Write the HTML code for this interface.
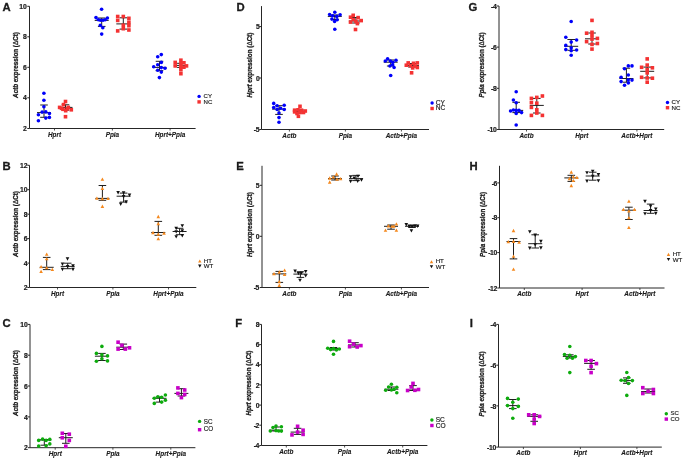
<!DOCTYPE html>
<html><head><meta charset="utf-8"><style>
html,body{margin:0;padding:0;background:#fff;}
body{width:685px;height:460px;overflow:hidden;}
svg{display:block;will-change:transform;}
text{font-family:"Liberation Sans",sans-serif;fill:#1a1a1a;}
.tk{font-size:6.8px;font-weight:bold;text-anchor:end;stroke:#1a1a1a;stroke-width:0.2px;}
.cat{font-size:6.4px;font-weight:bold;font-style:italic;text-anchor:middle;stroke:#1a1a1a;stroke-width:0.12px;}
.ttl{font-size:6.3px;font-weight:bold;text-anchor:middle;stroke:#1a1a1a;stroke-width:0.28px;}
.let{font-size:11.3px;font-weight:bold;stroke:#1a1a1a;stroke-width:0.3px;}
.leg{stroke:#1a1a1a;stroke-width:0.15px;}
</style></head><body>
<svg width="685" height="460" viewBox="0 0 685 460">
<rect width="685" height="460" fill="#fff"/>
<path d="M29.50 6.30V128.50H195.60" fill="none" stroke="#262626" stroke-width="1"/>
<path d="M27.30 6.30H29.50" stroke="#262626" stroke-width="1"/>
<text x="26.90" y="8.95" class="tk">10</text>
<path d="M27.30 36.80H29.50" stroke="#262626" stroke-width="1"/>
<text x="26.90" y="39.45" class="tk">8</text>
<path d="M27.30 67.30H29.50" stroke="#262626" stroke-width="1"/>
<text x="26.90" y="69.95" class="tk">6</text>
<path d="M27.30 97.80H29.50" stroke="#262626" stroke-width="1"/>
<text x="26.90" y="100.45" class="tk">4</text>
<path d="M27.30 128.50H29.50" stroke="#262626" stroke-width="1"/>
<text x="26.90" y="131.15" class="tk">2</text>
<path d="M54.50 128.50V130.50" stroke="#262626" stroke-width="0.8"/>
<text x="54.50" y="136.70" class="cat">Hprt</text>
<path d="M112.40 128.50V130.50" stroke="#262626" stroke-width="0.8"/>
<text x="112.40" y="136.70" class="cat">Ppia</text>
<path d="M170.10 128.50V130.50" stroke="#262626" stroke-width="0.8"/>
<text x="170.10" y="136.70" class="cat">Hprt+Ppia</text>
<text transform="translate(18.40 65.00) rotate(-90)" class="ttl"><tspan font-style="italic">Actb</tspan> expression (<tspan font-weight="normal">&#916;</tspan>Ct)</text>
<text x="2.60" y="10.70" class="let">A</text>
<path d="M44.00 105.00V117.30M40.20 105.00H47.80M40.20 117.30H47.80M37.00 112.60H51.00" stroke="#1e1e1e" stroke-width="1" fill="none"/>
<circle cx="43.90" cy="93.30" r="1.80" fill="#0000fa"/>
<circle cx="43.90" cy="100.20" r="1.80" fill="#0000fa"/>
<circle cx="43.90" cy="106.70" r="1.80" fill="#0000fa"/>
<circle cx="42.10" cy="112.10" r="1.80" fill="#0000fa"/>
<circle cx="45.80" cy="111.90" r="1.80" fill="#0000fa"/>
<circle cx="38.40" cy="114.80" r="1.80" fill="#0000fa"/>
<circle cx="49.40" cy="113.50" r="1.80" fill="#0000fa"/>
<circle cx="45.80" cy="118.10" r="1.80" fill="#0000fa"/>
<circle cx="49.40" cy="117.40" r="1.80" fill="#0000fa"/>
<circle cx="38.40" cy="120.70" r="1.80" fill="#0000fa"/>
<path d="M65.50 104.80V110.20M61.70 104.80H69.30M61.70 110.20H69.30M58.50 107.40H72.50" stroke="#1e1e1e" stroke-width="1" fill="none"/>
<rect x="63.70" y="99.70" width="3.60" height="3.60" fill="#f43232"/>
<rect x="61.70" y="102.80" width="3.60" height="3.60" fill="#f43232"/>
<rect x="57.80" y="105.60" width="3.60" height="3.60" fill="#f43232"/>
<rect x="61.20" y="107.50" width="3.60" height="3.60" fill="#f43232"/>
<rect x="66.50" y="105.60" width="3.60" height="3.60" fill="#f43232"/>
<rect x="69.50" y="108.00" width="3.60" height="3.60" fill="#f43232"/>
<rect x="63.90" y="108.90" width="3.60" height="3.60" fill="#f43232"/>
<rect x="63.70" y="114.90" width="3.60" height="3.60" fill="#f43232"/>
<rect x="59.70" y="106.50" width="3.60" height="3.60" fill="#f43232"/>
<rect x="65.40" y="107.00" width="3.60" height="3.60" fill="#f43232"/>
<path d="M101.70 18.00V26.40M97.90 18.00H105.50M97.90 26.40H105.50M94.70 20.40H108.70" stroke="#1e1e1e" stroke-width="1" fill="none"/>
<circle cx="101.60" cy="9.30" r="1.80" fill="#0000fa"/>
<circle cx="96.00" cy="17.60" r="1.80" fill="#0000fa"/>
<circle cx="107.40" cy="18.00" r="1.80" fill="#0000fa"/>
<circle cx="98.30" cy="19.80" r="1.80" fill="#0000fa"/>
<circle cx="100.40" cy="20.20" r="1.80" fill="#0000fa"/>
<circle cx="103.00" cy="20.20" r="1.80" fill="#0000fa"/>
<circle cx="105.20" cy="19.80" r="1.80" fill="#0000fa"/>
<circle cx="100.30" cy="25.40" r="1.80" fill="#0000fa"/>
<circle cx="102.80" cy="27.80" r="1.80" fill="#0000fa"/>
<circle cx="101.70" cy="34.10" r="1.80" fill="#0000fa"/>
<path d="M123.30 17.80V29.10M119.50 17.80H127.10M119.50 29.10H127.10M116.30 23.90H130.30" stroke="#1e1e1e" stroke-width="1" fill="none"/>
<rect x="115.90" y="14.70" width="3.60" height="3.60" fill="#f43232"/>
<rect x="121.50" y="14.70" width="3.60" height="3.60" fill="#f43232"/>
<rect x="127.10" y="16.50" width="3.60" height="3.60" fill="#f43232"/>
<rect x="115.90" y="18.60" width="3.60" height="3.60" fill="#f43232"/>
<rect x="127.10" y="20.40" width="3.60" height="3.60" fill="#f43232"/>
<rect x="121.50" y="23.40" width="3.60" height="3.60" fill="#f43232"/>
<rect x="127.10" y="23.90" width="3.60" height="3.60" fill="#f43232"/>
<rect x="121.50" y="26.90" width="3.60" height="3.60" fill="#f43232"/>
<rect x="127.10" y="28.20" width="3.60" height="3.60" fill="#f43232"/>
<rect x="115.90" y="29.10" width="3.60" height="3.60" fill="#f43232"/>
<path d="M159.50 61.30V70.70M155.70 61.30H163.30M155.70 70.70H163.30M152.50 67.40H166.50" stroke="#1e1e1e" stroke-width="1" fill="none"/>
<circle cx="161.30" cy="54.60" r="1.80" fill="#0000fa"/>
<circle cx="157.70" cy="56.70" r="1.80" fill="#0000fa"/>
<circle cx="161.30" cy="62.40" r="1.80" fill="#0000fa"/>
<circle cx="157.70" cy="64.80" r="1.80" fill="#0000fa"/>
<circle cx="153.70" cy="66.70" r="1.80" fill="#0000fa"/>
<circle cx="161.30" cy="67.60" r="1.80" fill="#0000fa"/>
<circle cx="165.00" cy="68.30" r="1.80" fill="#0000fa"/>
<circle cx="157.70" cy="70.20" r="1.80" fill="#0000fa"/>
<circle cx="161.30" cy="72.10" r="1.80" fill="#0000fa"/>
<circle cx="159.40" cy="77.60" r="1.80" fill="#0000fa"/>
<path d="M180.90 63.30V67.40M177.10 63.30H184.70M177.10 67.40H184.70M173.90 65.40H187.90" stroke="#1e1e1e" stroke-width="1" fill="none"/>
<rect x="179.10" y="58.40" width="3.60" height="3.60" fill="#f43232"/>
<rect x="173.40" y="60.60" width="3.60" height="3.60" fill="#f43232"/>
<rect x="182.10" y="61.00" width="3.60" height="3.60" fill="#f43232"/>
<rect x="179.10" y="61.90" width="3.60" height="3.60" fill="#f43232"/>
<rect x="184.70" y="64.10" width="3.60" height="3.60" fill="#f43232"/>
<rect x="173.40" y="64.10" width="3.60" height="3.60" fill="#f43232"/>
<rect x="179.10" y="64.90" width="3.60" height="3.60" fill="#f43232"/>
<rect x="182.10" y="65.40" width="3.60" height="3.60" fill="#f43232"/>
<rect x="179.10" y="68.00" width="3.60" height="3.60" fill="#f43232"/>
<rect x="179.10" y="71.90" width="3.60" height="3.60" fill="#f43232"/>
<circle cx="199.10" cy="96.40" r="1.71" fill="#0000fa"/>
<text x="203.50" y="98.30" class="leg" font-size="6.1">CY</text>
<rect x="197.39" y="100.19" width="3.42" height="3.42" fill="#f43232"/>
<text x="203.50" y="103.60" class="leg" font-size="6.1">NC</text>
<path d="M29.50 165.30V287.50H196.30" fill="none" stroke="#262626" stroke-width="1"/>
<path d="M27.30 165.30H29.50" stroke="#262626" stroke-width="1"/>
<text x="27.50" y="167.95" class="tk">12</text>
<path d="M27.30 189.70H29.50" stroke="#262626" stroke-width="1"/>
<text x="27.50" y="192.35" class="tk">10</text>
<path d="M27.30 214.20H29.50" stroke="#262626" stroke-width="1"/>
<text x="27.50" y="216.85" class="tk">8</text>
<path d="M27.30 238.60H29.50" stroke="#262626" stroke-width="1"/>
<text x="27.50" y="241.25" class="tk">6</text>
<path d="M27.30 263.10H29.50" stroke="#262626" stroke-width="1"/>
<text x="27.50" y="265.75" class="tk">4</text>
<path d="M27.30 287.50H29.50" stroke="#262626" stroke-width="1"/>
<text x="27.50" y="290.15" class="tk">2</text>
<path d="M57.50 287.50V289.50" stroke="#262626" stroke-width="0.8"/>
<text x="57.50" y="295.70" class="cat">Hprt</text>
<path d="M112.90 287.50V289.50" stroke="#262626" stroke-width="0.8"/>
<text x="112.90" y="295.70" class="cat">Ppia</text>
<path d="M168.50 287.50V289.50" stroke="#262626" stroke-width="0.8"/>
<text x="168.50" y="295.70" class="cat">Hprt+Ppia</text>
<text transform="translate(18.40 224.00) rotate(-90)" class="ttl"><tspan font-style="italic">Actb</tspan> expression (<tspan font-weight="normal">&#916;</tspan>Ct)</text>
<text x="2.40" y="170.10" class="let">B</text>
<path d="M46.70 257.40V269.60M42.90 257.40H50.50M42.90 269.60H50.50M39.70 267.30H53.70" stroke="#1e1e1e" stroke-width="1" fill="none"/>
<path d="M46.70 252.51L48.50 255.84L44.90 255.84Z" fill="#f5891e"/>
<path d="M46.70 256.91L48.50 260.24L44.90 260.24Z" fill="#f5891e"/>
<path d="M41.10 265.01L42.90 268.34L39.30 268.34Z" fill="#f5891e"/>
<path d="M46.70 265.91L48.50 269.24L44.90 269.24Z" fill="#f5891e"/>
<path d="M52.30 267.71L54.10 271.04L50.50 271.04Z" fill="#f5891e"/>
<path d="M41.10 269.71L42.90 273.04L39.30 273.04Z" fill="#f5891e"/>
<path d="M67.70 263.20V268.70M63.90 263.20H71.50M63.90 268.70H71.50M60.70 266.40H74.70" stroke="#1e1e1e" stroke-width="1" fill="none"/>
<path d="M67.50 260.69L69.30 257.36L65.70 257.36Z" fill="#111111"/>
<path d="M62.50 265.89L64.30 262.56L60.70 262.56Z" fill="#111111"/>
<path d="M73.00 267.69L74.80 264.36L71.20 264.36Z" fill="#111111"/>
<path d="M62.50 271.19L64.30 267.86L60.70 267.86Z" fill="#111111"/>
<path d="M73.00 271.19L74.80 267.86L71.20 267.86Z" fill="#111111"/>
<path d="M67.60 268.29L69.40 264.96L65.80 264.96Z" fill="#111111"/>
<path d="M102.40 185.50V200.30M98.60 185.50H106.20M98.60 200.30H106.20M95.40 198.40H109.40" stroke="#1e1e1e" stroke-width="1" fill="none"/>
<path d="M102.40 177.41L104.20 180.74L100.60 180.74Z" fill="#f5891e"/>
<path d="M102.40 186.71L104.20 190.04L100.60 190.04Z" fill="#f5891e"/>
<path d="M96.90 196.51L98.70 199.84L95.10 199.84Z" fill="#f5891e"/>
<path d="M102.40 196.81L104.20 200.14L100.60 200.14Z" fill="#f5891e"/>
<path d="M108.00 196.71L109.80 200.04L106.20 200.04Z" fill="#f5891e"/>
<path d="M102.40 204.61L104.20 207.94L100.60 207.94Z" fill="#f5891e"/>
<path d="M123.60 193.10V202.10M119.80 193.10H127.40M119.80 202.10H127.40M116.60 196.20H130.60" stroke="#1e1e1e" stroke-width="1" fill="none"/>
<path d="M118.10 194.39L119.90 191.06L116.30 191.06Z" fill="#111111"/>
<path d="M123.60 194.59L125.40 191.26L121.80 191.26Z" fill="#111111"/>
<path d="M129.50 196.89L131.30 193.56L127.70 193.56Z" fill="#111111"/>
<path d="M126.10 203.69L127.90 200.36L124.30 200.36Z" fill="#111111"/>
<path d="M120.70 205.89L122.50 202.56L118.90 202.56Z" fill="#111111"/>
<path d="M123.60 198.39L125.40 195.06L121.80 195.06Z" fill="#111111"/>
<path d="M158.30 221.40V235.30M154.50 221.40H162.10M154.50 235.30H162.10M151.30 232.50H165.30" stroke="#1e1e1e" stroke-width="1" fill="none"/>
<path d="M158.30 214.81L160.10 218.14L156.50 218.14Z" fill="#f5891e"/>
<path d="M158.30 221.81L160.10 225.14L156.50 225.14Z" fill="#f5891e"/>
<path d="M153.00 230.81L154.80 234.14L151.20 234.14Z" fill="#f5891e"/>
<path d="M158.30 232.31L160.10 235.64L156.50 235.64Z" fill="#f5891e"/>
<path d="M164.00 231.31L165.80 234.64L162.20 234.64Z" fill="#f5891e"/>
<path d="M158.30 236.91L160.10 240.24L156.50 240.24Z" fill="#f5891e"/>
<path d="M179.60 228.30V234.70M175.80 228.30H183.40M175.80 234.70H183.40M172.60 231.50H186.60" stroke="#1e1e1e" stroke-width="1" fill="none"/>
<path d="M182.30 227.49L184.10 224.16L180.50 224.16Z" fill="#111111"/>
<path d="M176.20 230.19L178.00 226.86L174.40 226.86Z" fill="#111111"/>
<path d="M176.20 233.59L178.00 230.26L174.40 230.26Z" fill="#111111"/>
<path d="M182.30 232.59L184.10 229.26L180.50 229.26Z" fill="#111111"/>
<path d="M182.30 237.39L184.10 234.06L180.50 234.06Z" fill="#111111"/>
<path d="M176.20 238.49L178.00 235.16L174.40 235.16Z" fill="#111111"/>
<path d="M199.80 259.45L201.51 262.62L198.09 262.62Z" fill="#f5891e"/>
<text x="203.85" y="262.50" class="leg" font-size="6.1">HT</text>
<path d="M199.80 267.70L201.51 264.53L198.09 264.53Z" fill="#111111"/>
<text x="203.85" y="267.70" class="leg" font-size="6.1">WT</text>
<path d="M30.00 324.40V447.70H195.40" fill="none" stroke="#262626" stroke-width="1"/>
<path d="M27.80 324.40H30.00" stroke="#262626" stroke-width="1"/>
<text x="27.70" y="327.05" class="tk">10</text>
<path d="M27.80 355.20H30.00" stroke="#262626" stroke-width="1"/>
<text x="27.70" y="357.85" class="tk">8</text>
<path d="M27.80 386.00H30.00" stroke="#262626" stroke-width="1"/>
<text x="27.70" y="388.65" class="tk">6</text>
<path d="M27.80 416.90H30.00" stroke="#262626" stroke-width="1"/>
<text x="27.70" y="419.55" class="tk">4</text>
<path d="M27.80 447.70H30.00" stroke="#262626" stroke-width="1"/>
<text x="27.70" y="450.35" class="tk">2</text>
<path d="M55.20 447.70V449.70" stroke="#262626" stroke-width="0.8"/>
<text x="55.20" y="455.90" class="cat">Hprt</text>
<path d="M112.90 447.70V449.70" stroke="#262626" stroke-width="0.8"/>
<text x="112.90" y="455.90" class="cat">Ppia</text>
<path d="M170.80 447.70V449.70" stroke="#262626" stroke-width="0.8"/>
<text x="170.80" y="455.90" class="cat">Hprt+Ppia</text>
<text transform="translate(18.40 383.00) rotate(-90)" class="ttl"><tspan font-style="italic">Actb</tspan> expression (<tspan font-weight="normal">&#916;</tspan>Ct)</text>
<text x="2.40" y="327.00" class="let">C</text>
<path d="M44.30 439.50V445.20M40.50 439.50H48.10M40.50 445.20H48.10M37.30 440.00H51.30" stroke="#1e1e1e" stroke-width="1" fill="none"/>
<circle cx="38.70" cy="440.40" r="1.80" fill="#0dab0d"/>
<circle cx="42.60" cy="439.10" r="1.80" fill="#0dab0d"/>
<circle cx="46.10" cy="440.40" r="1.80" fill="#0dab0d"/>
<circle cx="49.80" cy="439.40" r="1.80" fill="#0dab0d"/>
<circle cx="49.80" cy="443.90" r="1.80" fill="#0dab0d"/>
<circle cx="46.10" cy="445.70" r="1.80" fill="#0dab0d"/>
<circle cx="38.70" cy="446.10" r="1.80" fill="#0dab0d"/>
<path d="M65.80 433.50V443.30M62.00 433.50H69.60M62.00 443.30H69.60M58.80 437.70H72.80" stroke="#1e1e1e" stroke-width="1" fill="none"/>
<rect x="60.50" y="431.50" width="3.60" height="3.60" fill="#c800c8"/>
<rect x="67.50" y="432.40" width="3.60" height="3.60" fill="#c800c8"/>
<rect x="60.50" y="436.00" width="3.60" height="3.60" fill="#c800c8"/>
<rect x="67.50" y="438.60" width="3.60" height="3.60" fill="#c800c8"/>
<rect x="64.00" y="444.50" width="3.60" height="3.60" fill="#c800c8"/>
<path d="M101.90 353.40V360.50M98.10 353.40H105.70M98.10 360.50H105.70M94.90 356.20H108.90" stroke="#1e1e1e" stroke-width="1" fill="none"/>
<circle cx="101.90" cy="346.40" r="1.80" fill="#0dab0d"/>
<circle cx="96.40" cy="353.40" r="1.80" fill="#0dab0d"/>
<circle cx="101.90" cy="354.90" r="1.80" fill="#0dab0d"/>
<circle cx="107.50" cy="355.90" r="1.80" fill="#0dab0d"/>
<circle cx="101.90" cy="358.70" r="1.80" fill="#0dab0d"/>
<circle cx="96.40" cy="361.30" r="1.80" fill="#0dab0d"/>
<circle cx="107.50" cy="360.90" r="1.80" fill="#0dab0d"/>
<path d="M123.30 344.10V349.50M119.50 344.10H127.10M119.50 349.50H127.10M116.30 347.20H130.30" stroke="#1e1e1e" stroke-width="1" fill="none"/>
<rect x="116.30" y="340.40" width="3.60" height="3.60" fill="#c800c8"/>
<rect x="120.10" y="343.50" width="3.60" height="3.60" fill="#c800c8"/>
<rect x="116.30" y="347.30" width="3.60" height="3.60" fill="#c800c8"/>
<rect x="123.50" y="347.30" width="3.60" height="3.60" fill="#c800c8"/>
<rect x="127.70" y="346.00" width="3.60" height="3.60" fill="#c800c8"/>
<path d="M159.50 397.00V402.10M155.70 397.00H163.30M155.70 402.10H163.30M152.50 398.30H166.50" stroke="#1e1e1e" stroke-width="1" fill="none"/>
<circle cx="165.40" cy="395.00" r="1.80" fill="#0dab0d"/>
<circle cx="154.30" cy="398.30" r="1.80" fill="#0dab0d"/>
<circle cx="157.90" cy="396.80" r="1.80" fill="#0dab0d"/>
<circle cx="161.60" cy="397.20" r="1.80" fill="#0dab0d"/>
<circle cx="165.40" cy="400.20" r="1.80" fill="#0dab0d"/>
<circle cx="161.60" cy="402.10" r="1.80" fill="#0dab0d"/>
<circle cx="154.30" cy="403.40" r="1.80" fill="#0dab0d"/>
<path d="M181.40 388.70V396.00M177.60 388.70H185.20M177.60 396.00H185.20M174.40 393.40H188.40" stroke="#1e1e1e" stroke-width="1" fill="none"/>
<rect x="176.10" y="386.10" width="3.60" height="3.60" fill="#c800c8"/>
<rect x="182.90" y="388.20" width="3.60" height="3.60" fill="#c800c8"/>
<rect x="176.10" y="391.60" width="3.60" height="3.60" fill="#c800c8"/>
<rect x="182.90" y="392.70" width="3.60" height="3.60" fill="#c800c8"/>
<rect x="179.60" y="395.80" width="3.60" height="3.60" fill="#c800c8"/>
<circle cx="199.60" cy="421.40" r="1.71" fill="#0dab0d"/>
<text x="203.70" y="423.70" class="leg" font-size="6.3">SC</text>
<rect x="197.89" y="427.99" width="3.42" height="3.42" fill="#c800c8"/>
<text x="203.70" y="431.40" class="leg" font-size="6.3">CO</text>
<path d="M261.50 6.10V129.50H429.00" fill="none" stroke="#262626" stroke-width="1"/>
<path d="M259.30 26.60H261.50" stroke="#262626" stroke-width="1"/>
<text x="259.80" y="29.25" class="tk">5</text>
<path d="M259.30 78.00H261.50" stroke="#262626" stroke-width="1"/>
<text x="259.80" y="80.65" class="tk">0</text>
<path d="M259.30 129.50H261.50" stroke="#262626" stroke-width="1"/>
<text x="259.30" y="132.15" class="tk" letter-spacing="-0.3">-5</text>
<path d="M289.40 129.50V131.50" stroke="#262626" stroke-width="0.8"/>
<text x="289.40" y="137.70" class="cat">Actb</text>
<path d="M345.40 129.50V131.50" stroke="#262626" stroke-width="0.8"/>
<text x="345.40" y="137.70" class="cat">Ppia</text>
<path d="M401.40 129.50V131.50" stroke="#262626" stroke-width="0.8"/>
<text x="401.40" y="137.70" class="cat">Actb+Ppia</text>
<text transform="translate(251.60 65.00) rotate(-90)" class="ttl"><tspan font-style="italic">Hprt</tspan> expression (<tspan font-weight="normal">&#916;</tspan>Ct)</text>
<text x="236.40" y="10.50" class="let">D</text>
<path d="M279.00 105.70V114.40M275.20 105.70H282.80M275.20 114.40H282.80M272.00 109.10H286.00" stroke="#1e1e1e" stroke-width="1" fill="none"/>
<circle cx="273.70" cy="103.40" r="1.80" fill="#0000fa"/>
<circle cx="277.10" cy="105.70" r="1.80" fill="#0000fa"/>
<circle cx="284.20" cy="105.30" r="1.80" fill="#0000fa"/>
<circle cx="273.70" cy="107.60" r="1.80" fill="#0000fa"/>
<circle cx="277.10" cy="109.50" r="1.80" fill="#0000fa"/>
<circle cx="280.60" cy="108.30" r="1.80" fill="#0000fa"/>
<circle cx="284.20" cy="109.50" r="1.80" fill="#0000fa"/>
<circle cx="279.00" cy="113.00" r="1.80" fill="#0000fa"/>
<circle cx="279.00" cy="117.60" r="1.80" fill="#0000fa"/>
<circle cx="279.00" cy="122.20" r="1.80" fill="#0000fa"/>
<path d="M300.00 110.00V113.00M296.20 110.00H303.80M296.20 113.00H303.80M293.00 111.40H307.00" stroke="#1e1e1e" stroke-width="1" fill="none"/>
<rect x="298.20" y="104.50" width="3.60" height="3.60" fill="#f43232"/>
<rect x="292.80" y="108.40" width="3.60" height="3.60" fill="#f43232"/>
<rect x="296.20" y="108.00" width="3.60" height="3.60" fill="#f43232"/>
<rect x="299.70" y="108.40" width="3.60" height="3.60" fill="#f43232"/>
<rect x="303.50" y="109.20" width="3.60" height="3.60" fill="#f43232"/>
<rect x="292.80" y="110.10" width="3.60" height="3.60" fill="#f43232"/>
<rect x="298.20" y="110.70" width="3.60" height="3.60" fill="#f43232"/>
<rect x="301.70" y="110.70" width="3.60" height="3.60" fill="#f43232"/>
<rect x="296.60" y="114.50" width="3.60" height="3.60" fill="#f43232"/>
<rect x="295.20" y="111.70" width="3.60" height="3.60" fill="#f43232"/>
<path d="M334.80 15.00V19.50M331.00 15.00H338.60M331.00 19.50H338.60M327.80 16.40H341.80" stroke="#1e1e1e" stroke-width="1" fill="none"/>
<circle cx="334.80" cy="12.20" r="1.80" fill="#0000fa"/>
<circle cx="329.60" cy="14.50" r="1.80" fill="#0000fa"/>
<circle cx="340.10" cy="14.70" r="1.80" fill="#0000fa"/>
<circle cx="332.70" cy="15.70" r="1.80" fill="#0000fa"/>
<circle cx="336.80" cy="16.40" r="1.80" fill="#0000fa"/>
<circle cx="331.90" cy="19.10" r="1.80" fill="#0000fa"/>
<circle cx="337.20" cy="19.80" r="1.80" fill="#0000fa"/>
<circle cx="334.60" cy="21.40" r="1.80" fill="#0000fa"/>
<circle cx="334.80" cy="29.20" r="1.80" fill="#0000fa"/>
<path d="M355.90 17.50V23.00M352.10 17.50H359.70M352.10 23.00H359.70M348.90 21.00H362.90" stroke="#1e1e1e" stroke-width="1" fill="none"/>
<rect x="351.40" y="13.50" width="3.60" height="3.60" fill="#f43232"/>
<rect x="348.70" y="15.40" width="3.60" height="3.60" fill="#f43232"/>
<rect x="356.30" y="15.80" width="3.60" height="3.60" fill="#f43232"/>
<rect x="351.40" y="17.70" width="3.60" height="3.60" fill="#f43232"/>
<rect x="359.40" y="18.80" width="3.60" height="3.60" fill="#f43232"/>
<rect x="348.70" y="20.30" width="3.60" height="3.60" fill="#f43232"/>
<rect x="354.10" y="19.60" width="3.60" height="3.60" fill="#f43232"/>
<rect x="355.60" y="21.80" width="3.60" height="3.60" fill="#f43232"/>
<rect x="353.70" y="27.70" width="3.60" height="3.60" fill="#f43232"/>
<path d="M390.70 60.00V66.00M386.90 60.00H394.50M386.90 66.00H394.50M383.70 62.20H397.70" stroke="#1e1e1e" stroke-width="1" fill="none"/>
<circle cx="387.60" cy="58.80" r="1.80" fill="#0000fa"/>
<circle cx="385.30" cy="61.00" r="1.80" fill="#0000fa"/>
<circle cx="390.30" cy="61.00" r="1.80" fill="#0000fa"/>
<circle cx="392.90" cy="62.20" r="1.80" fill="#0000fa"/>
<circle cx="396.00" cy="60.30" r="1.80" fill="#0000fa"/>
<circle cx="389.90" cy="66.00" r="1.80" fill="#0000fa"/>
<circle cx="392.60" cy="64.80" r="1.80" fill="#0000fa"/>
<circle cx="394.10" cy="67.50" r="1.80" fill="#0000fa"/>
<circle cx="390.70" cy="75.50" r="1.80" fill="#0000fa"/>
<path d="M412.00 63.50V67.00M408.20 63.50H415.80M408.20 67.00H415.80M405.00 65.60H419.00" stroke="#1e1e1e" stroke-width="1" fill="none"/>
<rect x="406.40" y="61.10" width="3.60" height="3.60" fill="#f43232"/>
<rect x="411.70" y="61.50" width="3.60" height="3.60" fill="#f43232"/>
<rect x="415.50" y="61.10" width="3.60" height="3.60" fill="#f43232"/>
<rect x="404.50" y="63.40" width="3.60" height="3.60" fill="#f43232"/>
<rect x="408.60" y="63.80" width="3.60" height="3.60" fill="#f43232"/>
<rect x="413.20" y="64.20" width="3.60" height="3.60" fill="#f43232"/>
<rect x="415.50" y="65.70" width="3.60" height="3.60" fill="#f43232"/>
<rect x="410.90" y="66.10" width="3.60" height="3.60" fill="#f43232"/>
<rect x="409.80" y="71.00" width="3.60" height="3.60" fill="#f43232"/>
<circle cx="432.10" cy="103.00" r="1.71" fill="#0000fa"/>
<text x="435.70" y="104.50" class="leg" font-size="6.6">CY</text>
<rect x="430.39" y="106.79" width="3.42" height="3.42" fill="#f43232"/>
<text x="435.70" y="110.40" class="leg" font-size="6.6">NC</text>
<path d="M262.00 165.80V287.50H429.00" fill="none" stroke="#262626" stroke-width="1"/>
<path d="M259.80 185.30H262.00" stroke="#262626" stroke-width="1"/>
<text x="259.60" y="187.95" class="tk">5</text>
<path d="M259.80 236.30H262.00" stroke="#262626" stroke-width="1"/>
<text x="259.60" y="238.95" class="tk">0</text>
<path d="M259.80 287.50H262.00" stroke="#262626" stroke-width="1"/>
<text x="259.10" y="290.15" class="tk" letter-spacing="-0.3">-5</text>
<path d="M289.40 287.50V289.50" stroke="#262626" stroke-width="0.8"/>
<text x="289.40" y="295.70" class="cat">Actb</text>
<path d="M345.40 287.50V289.50" stroke="#262626" stroke-width="0.8"/>
<text x="345.40" y="295.70" class="cat">Ppia</text>
<path d="M401.40 287.50V289.50" stroke="#262626" stroke-width="0.8"/>
<text x="401.40" y="295.70" class="cat">Actb+Ppia</text>
<text transform="translate(251.60 224.50) rotate(-90)" class="ttl"><tspan font-style="italic">Hprt</tspan> expression (<tspan font-weight="normal">&#916;</tspan>Ct)</text>
<text x="236.30" y="170.10" class="let">E</text>
<path d="M279.30 271.40V282.40M275.50 271.40H283.10M275.50 282.40H283.10M272.30 273.90H286.30" stroke="#1e1e1e" stroke-width="1" fill="none"/>
<path d="M284.60 268.41L286.40 271.74L282.80 271.74Z" fill="#f5891e"/>
<path d="M279.30 270.31L281.10 273.64L277.50 273.64Z" fill="#f5891e"/>
<path d="M274.00 272.01L275.80 275.34L272.20 275.34Z" fill="#f5891e"/>
<path d="M284.60 272.71L286.40 276.04L282.80 276.04Z" fill="#f5891e"/>
<path d="M279.30 279.81L281.10 283.14L277.50 283.14Z" fill="#f5891e"/>
<path d="M279.30 283.61L281.10 286.94L277.50 286.94Z" fill="#f5891e"/>
<path d="M300.40 271.80V277.40M296.60 271.80H304.20M296.60 277.40H304.20M293.40 274.10H307.40" stroke="#1e1e1e" stroke-width="1" fill="none"/>
<path d="M295.10 272.89L296.90 269.56L293.30 269.56Z" fill="#111111"/>
<path d="M298.50 275.19L300.30 271.86L296.70 271.86Z" fill="#111111"/>
<path d="M301.50 274.79L303.30 271.46L299.70 271.46Z" fill="#111111"/>
<path d="M305.70 273.29L307.50 269.96L303.90 269.96Z" fill="#111111"/>
<path d="M305.70 277.49L307.50 274.16L303.90 274.16Z" fill="#111111"/>
<path d="M300.00 282.09L301.80 278.76L298.20 278.76Z" fill="#111111"/>
<path d="M335.00 176.00V180.00M331.20 176.00H338.80M331.20 180.00H338.80M328.00 178.60H342.00" stroke="#1e1e1e" stroke-width="1" fill="none"/>
<path d="M336.60 172.31L338.40 175.64L334.80 175.64Z" fill="#f5891e"/>
<path d="M333.30 175.21L335.10 178.54L331.50 178.54Z" fill="#f5891e"/>
<path d="M329.70 176.31L331.50 179.64L327.90 179.64Z" fill="#f5891e"/>
<path d="M337.00 177.41L338.80 180.74L335.20 180.74Z" fill="#f5891e"/>
<path d="M340.60 177.01L342.40 180.34L338.80 180.34Z" fill="#f5891e"/>
<path d="M329.70 180.31L331.50 183.64L327.90 183.64Z" fill="#f5891e"/>
<path d="M356.00 175.40V180.60M352.20 175.40H359.80M352.20 180.60H359.80M349.00 178.60H363.00" stroke="#1e1e1e" stroke-width="1" fill="none"/>
<path d="M350.60 178.49L352.40 175.16L348.80 175.16Z" fill="#111111"/>
<path d="M354.20 179.79L356.00 176.46L352.40 176.46Z" fill="#111111"/>
<path d="M358.00 177.99L359.80 174.66L356.20 174.66Z" fill="#111111"/>
<path d="M350.60 183.19L352.40 179.86L348.80 179.86Z" fill="#111111"/>
<path d="M357.70 182.89L359.50 179.56L355.90 179.56Z" fill="#111111"/>
<path d="M361.50 181.79L363.30 178.46L359.70 178.46Z" fill="#111111"/>
<path d="M391.00 225.00V229.20M387.20 225.00H394.80M387.20 229.20H394.80M384.00 226.30H398.00" stroke="#1e1e1e" stroke-width="1" fill="none"/>
<path d="M396.40 222.21L398.20 225.54L394.60 225.54Z" fill="#f5891e"/>
<path d="M388.40 224.11L390.20 227.44L386.60 227.44Z" fill="#f5891e"/>
<path d="M392.00 224.41L393.80 227.74L390.20 227.74Z" fill="#f5891e"/>
<path d="M393.90 224.41L395.70 227.74L392.10 227.74Z" fill="#f5891e"/>
<path d="M385.50 228.41L387.30 231.74L383.70 231.74Z" fill="#f5891e"/>
<path d="M396.40 228.41L398.20 231.74L394.60 231.74Z" fill="#f5891e"/>
<path d="M412.00 225.50V227.50M408.20 225.50H415.80M408.20 227.50H415.80M405.00 226.30H419.00" stroke="#1e1e1e" stroke-width="1" fill="none"/>
<path d="M406.30 226.39L408.10 223.06L404.50 223.06Z" fill="#111111"/>
<path d="M409.20 227.89L411.00 224.56L407.40 224.56Z" fill="#111111"/>
<path d="M412.10 227.89L413.90 224.56L410.30 224.56Z" fill="#111111"/>
<path d="M415.00 227.49L416.80 224.16L413.20 224.16Z" fill="#111111"/>
<path d="M417.60 227.89L419.40 224.56L415.80 224.56Z" fill="#111111"/>
<path d="M411.40 232.59L413.20 229.26L409.60 229.26Z" fill="#111111"/>
<path d="M431.50 260.20L433.21 263.37L429.79 263.37Z" fill="#f5891e"/>
<text x="435.65" y="263.30" class="leg" font-size="6.15">HT</text>
<path d="M431.50 268.30L433.21 265.13L429.79 265.13Z" fill="#111111"/>
<text x="435.65" y="268.60" class="leg" font-size="6.15">WT</text>
<path d="M261.50 324.40V445.50H427.40" fill="none" stroke="#262626" stroke-width="1"/>
<path d="M259.30 324.40H261.50" stroke="#262626" stroke-width="1"/>
<text x="259.60" y="327.05" class="tk">8</text>
<path d="M259.30 344.60H261.50" stroke="#262626" stroke-width="1"/>
<text x="259.60" y="347.25" class="tk">6</text>
<path d="M259.30 364.70H261.50" stroke="#262626" stroke-width="1"/>
<text x="259.60" y="367.35" class="tk">4</text>
<path d="M259.30 384.90H261.50" stroke="#262626" stroke-width="1"/>
<text x="259.60" y="387.55" class="tk">2</text>
<path d="M259.30 405.10H261.50" stroke="#262626" stroke-width="1"/>
<text x="259.60" y="407.75" class="tk">0</text>
<path d="M259.30 425.20H261.50" stroke="#262626" stroke-width="1"/>
<text x="259.10" y="427.85" class="tk" letter-spacing="-0.3">-2</text>
<path d="M259.30 445.50H261.50" stroke="#262626" stroke-width="1"/>
<text x="259.10" y="448.15" class="tk" letter-spacing="-0.3">-4</text>
<path d="M286.30 445.50V447.50" stroke="#262626" stroke-width="0.8"/>
<text x="286.30" y="453.70" class="cat">Actb</text>
<path d="M344.60 445.50V447.50" stroke="#262626" stroke-width="0.8"/>
<text x="344.60" y="453.70" class="cat">Ppia</text>
<path d="M402.70 445.50V447.50" stroke="#262626" stroke-width="0.8"/>
<text x="402.70" y="453.70" class="cat">Actb+Ppia</text>
<text transform="translate(251.00 383.00) rotate(-90)" class="ttl"><tspan font-style="italic">Hprt</tspan> expression (<tspan font-weight="normal">&#916;</tspan>Ct)</text>
<text x="235.20" y="327.00" class="let">F</text>
<path d="M276.00 427.00V431.00M272.20 427.00H279.80M272.20 431.00H279.80M269.00 430.20H283.00" stroke="#1e1e1e" stroke-width="1" fill="none"/>
<circle cx="276.00" cy="426.00" r="1.80" fill="#0dab0d"/>
<circle cx="281.40" cy="426.80" r="1.80" fill="#0dab0d"/>
<circle cx="273.00" cy="427.60" r="1.80" fill="#0dab0d"/>
<circle cx="270.30" cy="431.00" r="1.80" fill="#0dab0d"/>
<circle cx="276.00" cy="430.60" r="1.80" fill="#0dab0d"/>
<circle cx="278.70" cy="431.00" r="1.80" fill="#0dab0d"/>
<circle cx="281.40" cy="431.10" r="1.80" fill="#0dab0d"/>
<path d="M297.60 428.30V434.40M293.80 428.30H301.40M293.80 434.40H301.40M290.60 432.10H304.60" stroke="#1e1e1e" stroke-width="1" fill="none"/>
<rect x="295.80" y="424.50" width="3.60" height="3.60" fill="#c800c8"/>
<rect x="301.30" y="428.40" width="3.60" height="3.60" fill="#c800c8"/>
<rect x="295.80" y="430.30" width="3.60" height="3.60" fill="#c800c8"/>
<rect x="301.30" y="432.60" width="3.60" height="3.60" fill="#c800c8"/>
<rect x="290.20" y="433.10" width="3.60" height="3.60" fill="#c800c8"/>
<path d="M333.50 347.50V350.00M329.70 347.50H337.30M329.70 350.00H337.30M326.50 348.50H340.50" stroke="#1e1e1e" stroke-width="1" fill="none"/>
<circle cx="333.50" cy="341.40" r="1.80" fill="#0dab0d"/>
<circle cx="327.70" cy="348.30" r="1.80" fill="#0dab0d"/>
<circle cx="330.60" cy="349.60" r="1.80" fill="#0dab0d"/>
<circle cx="333.50" cy="348.50" r="1.80" fill="#0dab0d"/>
<circle cx="336.40" cy="350.00" r="1.80" fill="#0dab0d"/>
<circle cx="339.30" cy="349.00" r="1.80" fill="#0dab0d"/>
<circle cx="333.50" cy="354.30" r="1.80" fill="#0dab0d"/>
<path d="M355.00 342.70V347.00M351.20 342.70H358.80M351.20 347.00H358.80M348.00 344.90H362.00" stroke="#1e1e1e" stroke-width="1" fill="none"/>
<rect x="347.80" y="339.40" width="3.60" height="3.60" fill="#c800c8"/>
<rect x="351.80" y="342.30" width="3.60" height="3.60" fill="#c800c8"/>
<rect x="347.80" y="344.90" width="3.60" height="3.60" fill="#c800c8"/>
<rect x="355.40" y="345.20" width="3.60" height="3.60" fill="#c800c8"/>
<rect x="359.10" y="343.80" width="3.60" height="3.60" fill="#c800c8"/>
<path d="M391.40 387.00V390.50M387.60 387.00H395.20M387.60 390.50H395.20M384.40 389.20H398.40" stroke="#1e1e1e" stroke-width="1" fill="none"/>
<circle cx="391.40" cy="384.30" r="1.80" fill="#0dab0d"/>
<circle cx="388.60" cy="387.00" r="1.80" fill="#0dab0d"/>
<circle cx="396.80" cy="387.30" r="1.80" fill="#0dab0d"/>
<circle cx="385.70" cy="390.30" r="1.80" fill="#0dab0d"/>
<circle cx="391.40" cy="390.00" r="1.80" fill="#0dab0d"/>
<circle cx="394.10" cy="389.20" r="1.80" fill="#0dab0d"/>
<circle cx="396.80" cy="392.70" r="1.80" fill="#0dab0d"/>
<path d="M413.00 385.60V390.50M409.20 385.60H416.80M409.20 390.50H416.80M406.00 390.00H420.00" stroke="#1e1e1e" stroke-width="1" fill="none"/>
<rect x="411.20" y="381.60" width="3.60" height="3.60" fill="#c800c8"/>
<rect x="409.40" y="385.20" width="3.60" height="3.60" fill="#c800c8"/>
<rect x="405.80" y="388.70" width="3.60" height="3.60" fill="#c800c8"/>
<rect x="413.10" y="388.50" width="3.60" height="3.60" fill="#c800c8"/>
<rect x="416.70" y="387.70" width="3.60" height="3.60" fill="#c800c8"/>
<circle cx="431.90" cy="420.00" r="1.71" fill="#0dab0d"/>
<text x="435.70" y="421.50" class="leg" font-size="6.6">SC</text>
<rect x="430.19" y="423.79" width="3.42" height="3.42" fill="#c800c8"/>
<text x="435.70" y="427.60" class="leg" font-size="6.6">CO</text>
<path d="M499.00 6.00V129.50H664.20" fill="none" stroke="#262626" stroke-width="1"/>
<path d="M496.80 6.00H499.00" stroke="#262626" stroke-width="1"/>
<text x="496.40" y="8.65" class="tk" letter-spacing="-0.3">-4</text>
<path d="M496.80 47.10H499.00" stroke="#262626" stroke-width="1"/>
<text x="496.40" y="49.75" class="tk" letter-spacing="-0.3">-6</text>
<path d="M496.80 88.30H499.00" stroke="#262626" stroke-width="1"/>
<text x="496.40" y="90.95" class="tk" letter-spacing="-0.3">-8</text>
<path d="M496.80 129.50H499.00" stroke="#262626" stroke-width="1"/>
<text x="496.40" y="132.15" class="tk" letter-spacing="-0.3">-10</text>
<path d="M526.50 129.50V131.50" stroke="#262626" stroke-width="0.8"/>
<text x="526.50" y="137.70" class="cat">Actb</text>
<path d="M581.70 129.50V131.50" stroke="#262626" stroke-width="0.8"/>
<text x="581.70" y="137.70" class="cat">Hprt</text>
<path d="M636.90 129.50V131.50" stroke="#262626" stroke-width="0.8"/>
<text x="636.90" y="137.70" class="cat">Actb+Hprt</text>
<text transform="translate(484.00 65.00) rotate(-90)" class="ttl"><tspan font-style="italic">Ppia</tspan> expression (<tspan font-weight="normal">&#916;</tspan>Ct)</text>
<text x="468.40" y="10.50" class="let">G</text>
<path d="M516.20 102.30V112.60M512.40 102.30H520.00M512.40 112.60H520.00M509.20 110.40H523.20" stroke="#1e1e1e" stroke-width="1" fill="none"/>
<circle cx="516.20" cy="91.70" r="1.80" fill="#0000fa"/>
<circle cx="513.40" cy="100.00" r="1.80" fill="#0000fa"/>
<circle cx="516.20" cy="102.80" r="1.80" fill="#0000fa"/>
<circle cx="510.60" cy="111.00" r="1.80" fill="#0000fa"/>
<circle cx="513.40" cy="110.00" r="1.80" fill="#0000fa"/>
<circle cx="516.20" cy="110.40" r="1.80" fill="#0000fa"/>
<circle cx="519.00" cy="110.40" r="1.80" fill="#0000fa"/>
<circle cx="516.20" cy="113.50" r="1.80" fill="#0000fa"/>
<circle cx="521.60" cy="112.60" r="1.80" fill="#0000fa"/>
<circle cx="516.20" cy="125.00" r="1.80" fill="#0000fa"/>
<path d="M536.80 98.40V113.00M533.00 98.40H540.60M533.00 113.00H540.60M529.80 105.40H543.80" stroke="#1e1e1e" stroke-width="1" fill="none"/>
<rect x="540.60" y="94.20" width="3.60" height="3.60" fill="#f43232"/>
<rect x="529.60" y="96.60" width="3.60" height="3.60" fill="#f43232"/>
<rect x="535.00" y="95.60" width="3.60" height="3.60" fill="#f43232"/>
<rect x="529.60" y="100.80" width="3.60" height="3.60" fill="#f43232"/>
<rect x="535.00" y="101.40" width="3.60" height="3.60" fill="#f43232"/>
<rect x="529.60" y="105.60" width="3.60" height="3.60" fill="#f43232"/>
<rect x="535.00" y="108.00" width="3.60" height="3.60" fill="#f43232"/>
<rect x="535.00" y="111.20" width="3.60" height="3.60" fill="#f43232"/>
<rect x="529.60" y="113.60" width="3.60" height="3.60" fill="#f43232"/>
<rect x="540.60" y="113.60" width="3.60" height="3.60" fill="#f43232"/>
<path d="M571.20 39.50V50.30M567.40 39.50H575.00M567.40 50.30H575.00M564.20 46.30H578.20" stroke="#1e1e1e" stroke-width="1" fill="none"/>
<circle cx="571.20" cy="21.50" r="1.80" fill="#0000fa"/>
<circle cx="565.80" cy="37.20" r="1.80" fill="#0000fa"/>
<circle cx="576.60" cy="40.00" r="1.80" fill="#0000fa"/>
<circle cx="571.20" cy="42.10" r="1.80" fill="#0000fa"/>
<circle cx="565.80" cy="45.40" r="1.80" fill="#0000fa"/>
<circle cx="571.20" cy="47.70" r="1.80" fill="#0000fa"/>
<circle cx="565.80" cy="49.60" r="1.80" fill="#0000fa"/>
<circle cx="571.20" cy="50.70" r="1.80" fill="#0000fa"/>
<circle cx="576.60" cy="50.00" r="1.80" fill="#0000fa"/>
<circle cx="571.20" cy="55.20" r="1.80" fill="#0000fa"/>
<path d="M592.00 33.00V44.00M588.20 33.00H595.80M588.20 44.00H595.80M585.00 38.80H599.00" stroke="#1e1e1e" stroke-width="1" fill="none"/>
<rect x="590.20" y="18.60" width="3.60" height="3.60" fill="#f43232"/>
<rect x="590.20" y="30.50" width="3.60" height="3.60" fill="#f43232"/>
<rect x="584.80" y="31.40" width="3.60" height="3.60" fill="#f43232"/>
<rect x="590.20" y="33.90" width="3.60" height="3.60" fill="#f43232"/>
<rect x="595.60" y="36.60" width="3.60" height="3.60" fill="#f43232"/>
<rect x="590.20" y="37.30" width="3.60" height="3.60" fill="#f43232"/>
<rect x="584.80" y="39.80" width="3.60" height="3.60" fill="#f43232"/>
<rect x="595.60" y="41.70" width="3.60" height="3.60" fill="#f43232"/>
<rect x="590.20" y="42.60" width="3.60" height="3.60" fill="#f43232"/>
<rect x="590.20" y="47.30" width="3.60" height="3.60" fill="#f43232"/>
<path d="M626.40 68.20V82.20M622.60 68.20H630.20M622.60 82.20H630.20M619.40 78.50H633.40" stroke="#1e1e1e" stroke-width="1" fill="none"/>
<circle cx="628.30" cy="65.90" r="1.80" fill="#0000fa"/>
<circle cx="632.00" cy="65.90" r="1.80" fill="#0000fa"/>
<circle cx="624.50" cy="68.70" r="1.80" fill="#0000fa"/>
<circle cx="628.30" cy="75.00" r="1.80" fill="#0000fa"/>
<circle cx="621.10" cy="77.30" r="1.80" fill="#0000fa"/>
<circle cx="628.30" cy="79.70" r="1.80" fill="#0000fa"/>
<circle cx="632.00" cy="80.10" r="1.80" fill="#0000fa"/>
<circle cx="621.10" cy="81.60" r="1.80" fill="#0000fa"/>
<circle cx="628.30" cy="82.90" r="1.80" fill="#0000fa"/>
<circle cx="624.50" cy="85.30" r="1.80" fill="#0000fa"/>
<path d="M647.20 67.10V77.90M643.40 67.10H651.00M643.40 77.90H651.00M640.20 71.30H654.20" stroke="#1e1e1e" stroke-width="1" fill="none"/>
<rect x="645.40" y="57.10" width="3.60" height="3.60" fill="#f43232"/>
<rect x="645.40" y="63.30" width="3.60" height="3.60" fill="#f43232"/>
<rect x="639.80" y="65.50" width="3.60" height="3.60" fill="#f43232"/>
<rect x="650.60" y="66.00" width="3.60" height="3.60" fill="#f43232"/>
<rect x="645.40" y="67.80" width="3.60" height="3.60" fill="#f43232"/>
<rect x="645.40" y="71.10" width="3.60" height="3.60" fill="#f43232"/>
<rect x="639.80" y="75.50" width="3.60" height="3.60" fill="#f43232"/>
<rect x="645.40" y="76.20" width="3.60" height="3.60" fill="#f43232"/>
<rect x="650.60" y="76.40" width="3.60" height="3.60" fill="#f43232"/>
<rect x="645.40" y="80.40" width="3.60" height="3.60" fill="#f43232"/>
<circle cx="667.50" cy="102.50" r="1.71" fill="#0000fa"/>
<text x="671.50" y="104.30" class="leg" font-size="6.2">CY</text>
<rect x="665.79" y="105.99" width="3.42" height="3.42" fill="#f43232"/>
<text x="671.50" y="109.60" class="leg" font-size="6.2">NC</text>
<path d="M499.50 165.80V288.00H664.50" fill="none" stroke="#262626" stroke-width="1"/>
<path d="M497.30 182.90H499.50" stroke="#262626" stroke-width="1"/>
<text x="497.10" y="185.55" class="tk" letter-spacing="-0.3">-6</text>
<path d="M497.30 217.70H499.50" stroke="#262626" stroke-width="1"/>
<text x="497.10" y="220.35" class="tk" letter-spacing="-0.3">-8</text>
<path d="M497.30 252.60H499.50" stroke="#262626" stroke-width="1"/>
<text x="497.10" y="255.25" class="tk" letter-spacing="-0.3">-10</text>
<path d="M497.30 288.00H499.50" stroke="#262626" stroke-width="1"/>
<text x="497.10" y="290.65" class="tk" letter-spacing="-0.3">-12</text>
<path d="M524.30 288.00V290.00" stroke="#262626" stroke-width="0.8"/>
<text x="524.30" y="296.20" class="cat">Actb</text>
<path d="M582.10 288.00V290.00" stroke="#262626" stroke-width="0.8"/>
<text x="582.10" y="296.20" class="cat">Hprt</text>
<path d="M639.90 288.00V290.00" stroke="#262626" stroke-width="0.8"/>
<text x="639.90" y="296.20" class="cat">Actb+Hprt</text>
<text transform="translate(484.80 224.50) rotate(-90)" class="ttl"><tspan font-style="italic">Ppia</tspan> expression (<tspan font-weight="normal">&#916;</tspan>Ct)</text>
<text x="469.50" y="170.10" class="let">H</text>
<path d="M513.50 238.60V258.90M509.70 238.60H517.30M509.70 258.90H517.30M506.50 241.50H520.50" stroke="#1e1e1e" stroke-width="1" fill="none"/>
<path d="M513.50 228.81L515.30 232.14L511.70 232.14Z" fill="#f5891e"/>
<path d="M508.30 239.91L510.10 243.24L506.50 243.24Z" fill="#f5891e"/>
<path d="M513.50 239.61L515.30 242.94L511.70 242.94Z" fill="#f5891e"/>
<path d="M519.10 240.51L520.90 243.84L517.30 243.84Z" fill="#f5891e"/>
<path d="M513.50 254.41L515.30 257.74L511.70 257.74Z" fill="#f5891e"/>
<path d="M513.50 267.41L515.30 270.74L511.70 270.74Z" fill="#f5891e"/>
<path d="M535.20 234.80V248.00M531.40 234.80H539.00M531.40 248.00H539.00M528.20 243.70H542.20" stroke="#1e1e1e" stroke-width="1" fill="none"/>
<path d="M529.80 233.59L531.60 230.26L528.00 230.26Z" fill="#111111"/>
<path d="M535.20 236.89L537.00 233.56L533.40 233.56Z" fill="#111111"/>
<path d="M540.90 243.19L542.70 239.86L539.10 239.86Z" fill="#111111"/>
<path d="M535.20 246.49L537.00 243.16L533.40 243.16Z" fill="#111111"/>
<path d="M529.80 249.89L531.60 246.56L528.00 246.56Z" fill="#111111"/>
<path d="M540.90 249.69L542.70 246.36L539.10 246.36Z" fill="#111111"/>
<path d="M571.30 175.30V181.40M567.50 175.30H575.10M567.50 181.40H575.10M564.30 177.90H578.30" stroke="#1e1e1e" stroke-width="1" fill="none"/>
<path d="M571.30 170.31L573.10 173.64L569.50 173.64Z" fill="#f5891e"/>
<path d="M573.30 174.91L575.10 178.24L571.50 178.24Z" fill="#f5891e"/>
<path d="M569.50 176.81L571.30 180.14L567.70 180.14Z" fill="#f5891e"/>
<path d="M576.90 175.71L578.70 179.04L575.10 179.04Z" fill="#f5891e"/>
<path d="M573.30 178.71L575.10 182.04L571.50 182.04Z" fill="#f5891e"/>
<path d="M571.30 183.81L573.10 187.14L569.50 187.14Z" fill="#f5891e"/>
<path d="M592.70 172.20V180.20M588.90 172.20H596.50M588.90 180.20H596.50M585.70 176.00H599.70" stroke="#1e1e1e" stroke-width="1" fill="none"/>
<path d="M592.70 172.99L594.50 169.66L590.90 169.66Z" fill="#111111"/>
<path d="M587.00 174.49L588.80 171.16L585.20 171.16Z" fill="#111111"/>
<path d="M598.40 176.39L600.20 173.06L596.60 173.06Z" fill="#111111"/>
<path d="M592.70 178.19L594.50 174.86L590.90 174.86Z" fill="#111111"/>
<path d="M587.00 182.89L588.80 179.56L585.20 179.56Z" fill="#111111"/>
<path d="M598.40 182.49L600.20 179.16L596.60 179.16Z" fill="#111111"/>
<path d="M628.90 207.20V219.50M625.10 207.20H632.70M625.10 219.50H632.70M621.90 210.20H635.90" stroke="#1e1e1e" stroke-width="1" fill="none"/>
<path d="M628.90 199.41L630.70 202.74L627.10 202.74Z" fill="#f5891e"/>
<path d="M623.40 207.71L625.20 211.04L621.60 211.04Z" fill="#f5891e"/>
<path d="M634.50 207.71L636.30 211.04L632.70 211.04Z" fill="#f5891e"/>
<path d="M628.90 209.21L630.70 212.54L627.10 212.54Z" fill="#f5891e"/>
<path d="M628.90 215.91L630.70 219.24L627.10 219.24Z" fill="#f5891e"/>
<path d="M628.90 225.71L630.70 229.04L627.10 229.04Z" fill="#f5891e"/>
<path d="M650.60 204.10V213.30M646.80 204.10H654.40M646.80 213.30H654.40M643.60 210.50H657.60" stroke="#1e1e1e" stroke-width="1" fill="none"/>
<path d="M645.00 203.19L646.80 199.86L643.20 199.86Z" fill="#111111"/>
<path d="M655.80 210.79L657.60 207.46L654.00 207.46Z" fill="#111111"/>
<path d="M650.60 212.39L652.40 209.06L648.80 209.06Z" fill="#111111"/>
<path d="M645.00 215.59L646.80 212.26L643.20 212.26Z" fill="#111111"/>
<path d="M655.80 215.19L657.60 211.86L654.00 211.86Z" fill="#111111"/>
<path d="M650.60 207.89L652.40 204.56L648.80 204.56Z" fill="#111111"/>
<path d="M668.50 252.80L670.21 255.97L666.79 255.97Z" fill="#f5891e"/>
<text x="672.65" y="256.10" class="leg" font-size="6.15">HT</text>
<path d="M668.50 261.10L670.21 257.93L666.79 257.93Z" fill="#111111"/>
<text x="672.65" y="261.60" class="leg" font-size="6.15">WT</text>
<path d="M498.50 324.40V447.10H661.80" fill="none" stroke="#262626" stroke-width="1"/>
<path d="M496.30 324.40H498.50" stroke="#262626" stroke-width="1"/>
<text x="496.00" y="327.05" class="tk" letter-spacing="-0.3">-4</text>
<path d="M496.30 365.20H498.50" stroke="#262626" stroke-width="1"/>
<text x="496.00" y="367.85" class="tk" letter-spacing="-0.3">-6</text>
<path d="M496.30 405.90H498.50" stroke="#262626" stroke-width="1"/>
<text x="496.00" y="408.55" class="tk" letter-spacing="-0.3">-8</text>
<path d="M496.30 447.10H498.50" stroke="#262626" stroke-width="1"/>
<text x="496.00" y="449.75" class="tk" letter-spacing="-0.3">-10</text>
<path d="M523.40 447.10V449.10" stroke="#262626" stroke-width="0.8"/>
<text x="523.40" y="455.30" class="cat">Actb</text>
<path d="M580.40 447.10V449.10" stroke="#262626" stroke-width="0.8"/>
<text x="580.40" y="455.30" class="cat">Hprt</text>
<path d="M636.90 447.10V449.10" stroke="#262626" stroke-width="0.8"/>
<text x="636.90" y="455.30" class="cat">Actb+Hprt</text>
<text transform="translate(484.00 384.00) rotate(-90)" class="ttl"><tspan font-style="italic">Ppia</tspan> expression (<tspan font-weight="normal">&#916;</tspan>Ct)</text>
<text x="469.80" y="327.00" class="let">I</text>
<path d="M512.80 399.50V408.60M509.00 399.50H516.60M509.00 408.60H516.60M505.80 405.60H519.80" stroke="#1e1e1e" stroke-width="1" fill="none"/>
<circle cx="507.50" cy="398.40" r="1.80" fill="#0dab0d"/>
<circle cx="518.30" cy="399.10" r="1.80" fill="#0dab0d"/>
<circle cx="512.80" cy="402.20" r="1.80" fill="#0dab0d"/>
<circle cx="507.50" cy="405.60" r="1.80" fill="#0dab0d"/>
<circle cx="518.30" cy="406.40" r="1.80" fill="#0dab0d"/>
<circle cx="512.80" cy="408.60" r="1.80" fill="#0dab0d"/>
<circle cx="512.80" cy="418.30" r="1.80" fill="#0dab0d"/>
<path d="M534.20 414.80V421.30M530.40 414.80H538.00M530.40 421.30H538.00M527.20 416.40H541.20" stroke="#1e1e1e" stroke-width="1" fill="none"/>
<rect x="526.90" y="413.00" width="3.60" height="3.60" fill="#c800c8"/>
<rect x="532.40" y="413.00" width="3.60" height="3.60" fill="#c800c8"/>
<rect x="537.80" y="414.60" width="3.60" height="3.60" fill="#c800c8"/>
<rect x="532.40" y="417.30" width="3.60" height="3.60" fill="#c800c8"/>
<rect x="532.40" y="421.70" width="3.60" height="3.60" fill="#c800c8"/>
<path d="M569.80 354.80V358.00M566.00 354.80H573.60M566.00 358.00H573.60M562.80 356.40H576.80" stroke="#1e1e1e" stroke-width="1" fill="none"/>
<circle cx="569.80" cy="346.50" r="1.80" fill="#0dab0d"/>
<circle cx="564.50" cy="354.60" r="1.80" fill="#0dab0d"/>
<circle cx="569.80" cy="355.20" r="1.80" fill="#0dab0d"/>
<circle cx="575.40" cy="356.60" r="1.80" fill="#0dab0d"/>
<circle cx="567.10" cy="358.30" r="1.80" fill="#0dab0d"/>
<circle cx="572.50" cy="358.30" r="1.80" fill="#0dab0d"/>
<circle cx="569.80" cy="372.60" r="1.80" fill="#0dab0d"/>
<path d="M591.10 360.50V369.30M587.30 360.50H594.90M587.30 369.30H594.90M584.10 363.40H598.10" stroke="#1e1e1e" stroke-width="1" fill="none"/>
<rect x="584.00" y="358.70" width="3.60" height="3.60" fill="#c800c8"/>
<rect x="589.30" y="358.70" width="3.60" height="3.60" fill="#c800c8"/>
<rect x="594.60" y="361.80" width="3.60" height="3.60" fill="#c800c8"/>
<rect x="589.30" y="364.50" width="3.60" height="3.60" fill="#c800c8"/>
<rect x="589.30" y="370.80" width="3.60" height="3.60" fill="#c800c8"/>
<path d="M626.80 377.90V383.30M623.00 377.90H630.60M623.00 383.30H630.60M619.80 380.60H633.80" stroke="#1e1e1e" stroke-width="1" fill="none"/>
<circle cx="626.80" cy="372.50" r="1.80" fill="#0dab0d"/>
<circle cx="628.50" cy="377.60" r="1.80" fill="#0dab0d"/>
<circle cx="621.20" cy="380.20" r="1.80" fill="#0dab0d"/>
<circle cx="624.90" cy="380.60" r="1.80" fill="#0dab0d"/>
<circle cx="632.40" cy="380.60" r="1.80" fill="#0dab0d"/>
<circle cx="628.50" cy="383.50" r="1.80" fill="#0dab0d"/>
<circle cx="626.80" cy="395.40" r="1.80" fill="#0dab0d"/>
<path d="M648.10 389.00V393.00M644.30 389.00H651.90M644.30 393.00H651.90M641.10 391.50H655.10" stroke="#1e1e1e" stroke-width="1" fill="none"/>
<rect x="641.00" y="385.90" width="3.60" height="3.60" fill="#c800c8"/>
<rect x="651.60" y="387.70" width="3.60" height="3.60" fill="#c800c8"/>
<rect x="646.30" y="389.50" width="3.60" height="3.60" fill="#c800c8"/>
<rect x="641.00" y="391.70" width="3.60" height="3.60" fill="#c800c8"/>
<rect x="651.60" y="391.70" width="3.60" height="3.60" fill="#c800c8"/>
<circle cx="666.30" cy="413.80" r="1.71" fill="#0dab0d"/>
<text x="670.50" y="415.30" class="leg" font-size="6.05">SC</text>
<rect x="664.59" y="417.39" width="3.42" height="3.42" fill="#c800c8"/>
<text x="670.50" y="421.40" class="leg" font-size="6.05">CO</text>
</svg>
</body></html>
